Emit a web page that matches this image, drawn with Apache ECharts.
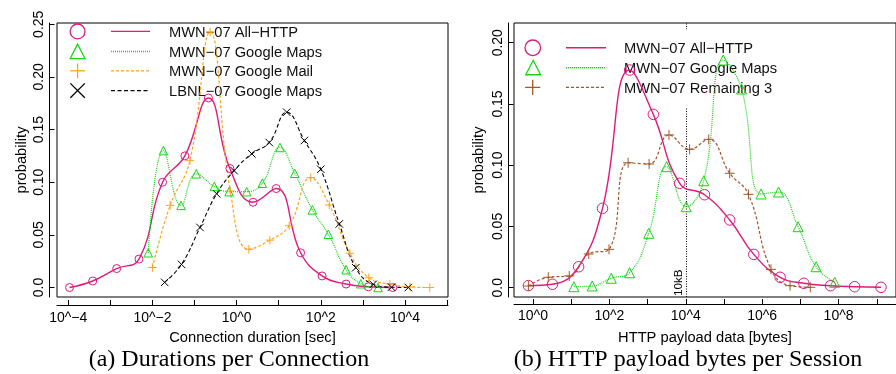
<!DOCTYPE html>
<html><head><meta charset="utf-8">
<script src="https://cdn.jsdelivr.net/npm/echarts@6/dist/echarts.min.js"></script>
<style>html,body{margin:0;padding:0;background:#fff}#c{width:896px;height:374px}</style>
</head><body><div id="c"></div>
<script>
// ---------- Panel (a): Durations per Connection (x = log10 seconds) ----------
const allHttpA_x = [-3.97, -3.42, -2.85, -2.32, -1.76, -1.23, -0.67, -0.16, 0.39, 0.94, 1.52, 2.03, 2.60, 3.13, 3.71];
const allHttpA_y = [0.0, 0.0062, 0.018, 0.027, 0.100, 0.125, 0.180, 0.113, 0.081, 0.094, 0.033, 0.011, 0.0033, 0.0007, 0.0];
const mapsA_x = [-2.10, -1.74, -1.32, -0.96, -0.53, -0.18, 0.24, 0.61, 1.03, 1.38, 1.80, 2.18, 2.60, 2.95, 3.36];
const mapsA_y = [0.033, 0.130, 0.078, 0.108, 0.096, 0.091, 0.091, 0.099, 0.133, 0.1085, 0.0737, 0.0506, 0.0169, 0.0036, 0.0];
const mailA_x = [-2.0, -1.58, -1.11, -0.63, -0.15, 0.29, 0.79, 1.25, 1.76, 2.20, 2.69, 3.14, 3.64, 4.12, 4.59];
const mailA_y = [0.019, 0.078, 0.1205, 0.2426, 0.0917, 0.0363, 0.045, 0.0587, 0.1044, 0.0784, 0.0325, 0.0093, 0.0033, 0.0005, 0.0];
const lbnlA_x = [-1.71, -1.31, -0.87, -0.475, -0.06, 0.36, 0.775, 1.19, 1.61, 2.0, 2.44, 2.83, 3.245, 3.68, 4.08];
const lbnlA_y = [0.0049, 0.022, 0.057, 0.089, 0.111, 0.127, 0.1377, 0.1665, 0.1396, 0.1123, 0.0604, 0.0188, 0.003, 0.0003, 0.0];

// ---------- Panel (b): HTTP payload bytes per Session (x = log10 bytes) ----------
const allHttpB_x = [-0.12, 0.51, 1.195, 1.82, 2.53, 3.15, 3.84, 4.49, 5.15, 5.78, 6.47, 7.09, 7.79, 8.42, 9.11];
const allHttpB_y = [0.0017, 0.0028, 0.0171, 0.0648, 0.1777, 0.1415, 0.0852, 0.0759, 0.0553, 0.0272, 0.0085, 0.0036, 0.0016, 0.0008, 0.0003];
const mapsB_x = [1.07, 1.55, 2.05, 2.53, 3.03, 3.50, 4.01, 4.47, 4.98, 5.46, 5.97, 6.43, 6.94, 7.41, 7.90];
const mapsB_y = [0.0008, 0.0014, 0.0077, 0.0122, 0.0444, 0.0988, 0.0661, 0.0873, 0.1859, 0.1622, 0.0765, 0.0781, 0.0498, 0.0171, 0.0044];
const remainB_x = [-0.12, 0.40, 0.95, 1.46, 1.99, 2.49, 3.04, 3.56, 4.10, 4.60, 5.15, 5.64, 6.23, 6.73, 7.26];
const remainB_y = [0.0014, 0.0085, 0.0096, 0.0275, 0.0313, 0.102, 0.101, 0.1247, 0.113, 0.1211, 0.0934, 0.0762, 0.015, 0.0016, 0.0003];
const thresholdB_x = [4];
const thresholdB_label = ['10kB'];

// ---------- Series names ----------
const namesA = ['MWN\u221207 All\u2212HTTP', 'MWN\u221207 Google Maps', 'MWN\u221207 Google Mail', 'LBNL\u221207 Google Maps'];
const namesB = ['MWN\u221207 All\u2212HTTP', 'MWN\u221207 Google Maps', 'MWN\u221207 Remaining 3'];

// ---------- Ticks ----------
const xTicksA = [-4, -3, -2, -1, 0, 1, 2, 3, 4, 5];
const xLabelValsA = [-4, -2, 0, 2, 4];
const xLabelsA = ['10^\u22124', '10^\u22122', '10^0', '10^2', '10^4'];
const xTicksB = [0, 1, 2, 3, 4, 5, 6, 7, 8, 9];
const xLabelValsB = [0, 2, 4, 6, 8];
const xLabelsB = ['10^0', '10^2', '10^4', '10^6', '10^8'];
const yTicksA = [0, 0.05, 0.10, 0.15, 0.20, 0.25];
const yLabelsA = ['0.0', '0.05', '0.10', '0.15', '0.20', '0.25'];
const yTicksB = [0, 0.05, 0.10, 0.15, 0.20];
const yLabelsB = ['0.0', '0.05', '0.10', '0.15', '0.20'];

const titles = ['(a) Durations per Connection', '(b) HTTP payload bytes per Session'];
const xNames = ['Connection duration [sec]', 'HTTP payload data [bytes]'];
const yName = 'probability';

// ---------- Styles ----------
const PINK = '#E0197D', GREEN = '#16D616', ORANGE = '#FFA31A', BLACK = '#000000', BROWN = '#A0582A';
const SANS = '"Liberation Sans", Arial, sans-serif';
const SERIF = '"Liberation Serif", "Times New Roman", serif';
const PLUS = 'path://M5,0L5,10M0,5L10,5';
const CROSS = 'path://M0,0L10,10M10,0L0,10';

function pick(vals, labels) {
  return function (v) {
    for (let i = 0; i < vals.length; i++) if (Math.abs(vals[i] - v) < 1e-9) return labels[i];
    return '';
  };
}
function zip(xs, ys) { return xs.map((x, i) => [x, ys[i]]); }

function mk(name, xs, ys, color, dash, width, symbol, size, gi) {
  return {
    type: 'line', name: name, xAxisIndex: gi, yAxisIndex: gi, z: 5,
    data: zip(xs, ys), smooth: 0.45, symbol: symbol, symbolSize: size,
    showAllSymbol: true, clip: false, silent: true,
    lineStyle: { color: color, width: width, type: dash },
    itemStyle: { color: 'rgba(0,0,0,0)', borderColor: color, borderWidth: 1 }
  };
}

function xAxis(gi, min, max, ticks, lvals, labels, name, offset, margin, gap) {
  return {
    gridIndex: gi, type: 'value', min: min, max: max, offset: offset,
    axisLine: { show: true, onZero: false, lineStyle: { color: '#000', width: 1 } },
    axisTick: { show: true, inside: true, length: 5, customValues: ticks, lineStyle: { color: '#000', width: 1 } },
    axisLabel: { customValues: lvals, formatter: pick(lvals, labels), fontSize: 14, fontFamily: SANS, color: '#000', margin: margin },
    splitLine: { show: false },
    name: name, nameLocation: 'middle', nameGap: gap,
    nameTextStyle: { fontSize: 14.7, fontFamily: SANS, color: '#000' }
  };
}
function yAxis(gi, min, max, ticks, labels, offset, margin, gap) {
  return {
    gridIndex: gi, type: 'value', min: min, max: max, offset: offset,
    axisLine: { show: true, onZero: false, lineStyle: { color: '#000', width: 1 } },
    axisTick: { show: true, inside: true, length: 5.5, customValues: ticks, lineStyle: { color: '#000', width: 1 } },
    axisLabel: { customValues: ticks, formatter: pick(ticks, labels), rotate: 90, fontSize: 14, fontFamily: SANS, color: '#000', margin: margin },
    splitLine: { show: false },
    name: yName, nameLocation: 'middle', nameGap: gap,
    nameTextStyle: { fontSize: 14.7, fontFamily: SANS, color: '#000' }
  };
}

// ---------- Legend drawn as graphics ----------
function legendRow(sym, cx, cy, r, color, x1, x2, dash, width, tx, text) {
  const els = [];
  const st = { fill: 'none', stroke: color, lineWidth: 1.3 };
  if (sym === 'circle') els.push({ type: 'circle', z: 4, shape: { cx: cx, cy: cy, r: r }, style: st });
  if (sym === 'triangle') els.push({ type: 'polygon', z: 4, shape: { points: [[cx, cy - r], [cx - r, cy + r * 0.95], [cx + r, cy + r * 0.95]] }, style: st });
  if (sym === 'plus') {
    els.push({ type: 'line', z: 4, shape: { x1: cx - r, y1: cy, x2: cx + r, y2: cy }, style: st });
    els.push({ type: 'line', z: 4, shape: { x1: cx, y1: cy - r, x2: cx, y2: cy + r }, style: st });
  }
  if (sym === 'cross') {
    els.push({ type: 'line', z: 4, shape: { x1: cx - r, y1: cy - r, x2: cx + r, y2: cy + r }, style: st });
    els.push({ type: 'line', z: 4, shape: { x1: cx + r, y1: cy - r, x2: cx - r, y2: cy + r }, style: st });
  }
  els.push({ type: 'line', z: 4, shape: { x1: x1, y1: cy, x2: x2, y2: cy },
    style: { stroke: color, lineWidth: width, lineDash: dash } });
  els.push({ type: 'text', z: 4, x: tx, y: cy + 1.3,
    style: { text: text, font: '14.7px ' + SANS, fill: '#111', align: 'left', verticalAlign: 'middle' } });
  return els;
}

const graphics = [].concat(
  [{ type: 'rect', z: 3, shape: { x: 517, y: 29.5, width: 250, height: 78.5 }, style: { fill: '#fff' } }],
  legendRow('circle', 77.6, 31.4, 7.4, PINK, 111, 150, null, 1.4, 169, namesA[0]),
  legendRow('triangle', 77.6, 51.5, 7.4, GREEN, 111, 150, [1, 1], 1.4, 169, namesA[1]),
  legendRow('plus', 77.6, 70.8, 7.4, ORANGE, 111, 150, [3, 2], 1.3, 169, namesA[2]),
  legendRow('cross', 77.6, 90.6, 7.2, BLACK, 111, 150, [4, 2.5], 1.2, 169, namesA[3]),
  legendRow('circle', 532.8, 47.8, 7.8, PINK, 566, 606, null, 1.4, 624, namesB[0]),
  legendRow('triangle', 533.2, 67.7, 7.4, GREEN, 566, 606, [1, 1], 1.4, 624, namesB[1]),
  legendRow('plus', 532.7, 87.4, 7.6, BROWN, 566, 606, [3, 2], 1.3, 624, namesB[2]),
  [
    { type: 'text', z: 4, x: 229, y: 359.5, style: { text: titles[0], font: '24px ' + SERIF, fill: '#000', align: 'center', verticalAlign: 'middle' } },
    { type: 'text', z: 4, x: 688, y: 359.5, style: { text: titles[1], font: '24px ' + SERIF, fill: '#000', align: 'center', verticalAlign: 'middle' } }
  ]
);

const option = {
  animation: false,
  backgroundColor: '#fff',
  grid: [
    { left: 57, top: 23, width: 391, height: 274, show: true, borderColor: '#000', borderWidth: 1, backgroundColor: 'transparent', containLabel: false },
    { left: 514, top: 23, width: 388, height: 274, show: true, borderColor: '#000', borderWidth: 1, backgroundColor: 'transparent', containLabel: false }
  ],
  xAxis: [
    xAxis(0, -4.268, 5.022, xTicksA, xLabelValsA, xLabelsA, xNames[0], 8, 6, 25),
    xAxis(1, -0.497, 9.503, xTicksB, xLabelValsB, xLabelsB, xNames[1], 7, 5, 26)
  ],
  yAxis: [
    yAxis(0, -0.009, 0.2512, yTicksA, yLabelsA, 8, 3, 20),
    yAxis(1, -0.0076, 0.2161, yTicksB, yLabelsB, 6, 3, 22)
  ],
  graphic: { elements: graphics },
  series: [
    mk(namesA[0], allHttpA_x, allHttpA_y, PINK, 'solid', 1.4, 'circle', 8, 0),
    mk(namesA[1], mapsA_x, mapsA_y, GREEN, [1, 1], 1.2, 'triangle', 8.5, 0),
    mk(namesA[2], mailA_x, mailA_y, ORANGE, [3, 2], 1.2, PLUS, 8.5, 0),
    mk(namesA[3], lbnlA_x, lbnlA_y, BLACK, [4, 2.5], 1.1, CROSS, 7.5, 0),
    {
      type: 'line', name: 'threshold', xAxisIndex: 1, yAxisIndex: 1, z: 1, data: [], silent: true,
      markLine: {
        z: 1, silent: true, animation: false, symbol: ['none', 'none'],
        lineStyle: { color: '#000', width: 1, type: [1, 1.5] },
        label: { show: true, formatter: thresholdB_label[0], position: 'insideStartTop', fontSize: 11.7, fontFamily: SANS, color: '#000', distance: 1 },
        data: [{ xAxis: thresholdB_x[0] }]
      }
    },
    mk(namesB[0], allHttpB_x, allHttpB_y, PINK, 'solid', 1.4, 'circle', 10.5, 1),
    mk(namesB[1], mapsB_x, mapsB_y, GREEN, [1, 1], 1.2, 'triangle', 10, 1),
    mk(namesB[2], remainB_x, remainB_y, BROWN, [3, 2], 1.2, PLUS, 10, 1)
  ]
};

const chart = echarts.init(document.getElementById('c'), null, { renderer: 'canvas' });
chart.setOption(option);
</script></body></html>
